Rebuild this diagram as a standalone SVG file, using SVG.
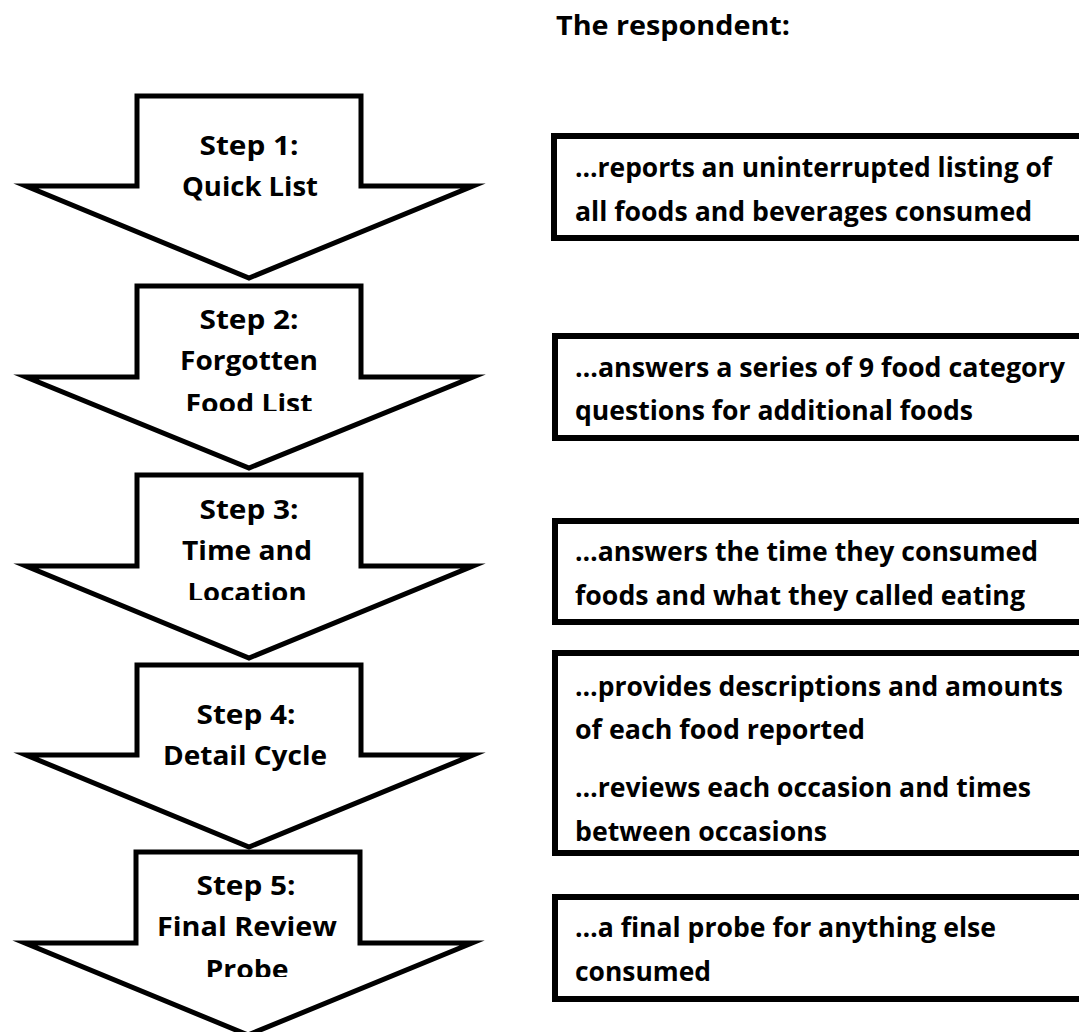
<svg xmlns="http://www.w3.org/2000/svg" width="1079" height="1032" viewBox="0 0 1079 1032">
<style>
.arrow{fill:#fff;stroke:#000;stroke-width:5;stroke-linejoin:miter;stroke-miterlimit:12}
.box{fill:#fff;stroke:#000;stroke-width:6}
.t{font-family:"Open Sans","Noto Sans","Liberation Sans",sans-serif;font-weight:700;fill:#000}
.at{font-size:27px;text-anchor:middle}
.bt{font-size:26px}
</style>
<defs>
<clipPath id="c2"><rect x="0" y="280" width="500" height="131"/></clipPath>
<clipPath id="c3"><rect x="0" y="470" width="500" height="130"/></clipPath>
<clipPath id="c5"><rect x="0" y="846" width="500" height="131"/></clipPath>
</defs>
<rect width="1079" height="1032" fill="#fff"/>
<text class="t" x="556" y="35" font-size="26" textLength="234" lengthAdjust="spacingAndGlyphs">The respondent:</text>

<g id="step1">
<path class="arrow" d="M137,96 H361 V186 H473 L249,278 L26,186 H137 Z"/>
<text class="t at" x="249" y="155" textLength="99" lengthAdjust="spacingAndGlyphs">Step 1:</text>
<text class="t at" x="250" y="196" textLength="136" lengthAdjust="spacingAndGlyphs">Quick List</text>
</g>
<g id="step2">
<path class="arrow" d="M137,286 H361 V377 H473 L249,468 L26,377 H137 Z"/>
<text class="t at" x="249" y="329" textLength="99" lengthAdjust="spacingAndGlyphs">Step 2:</text>
<text class="t at" x="249" y="370" textLength="138" lengthAdjust="spacingAndGlyphs">Forgotten</text>
<text class="t at" x="249" y="413" textLength="127" lengthAdjust="spacingAndGlyphs" clip-path="url(#c2)">Food List</text>
</g>
<g id="step3">
<path class="arrow" d="M137,475 H361 V566 H473 L249,658 L26,566 H137 Z"/>
<text class="t at" x="249" y="519" textLength="99" lengthAdjust="spacingAndGlyphs">Step 3:</text>
<text class="t at" x="247" y="560" textLength="130" lengthAdjust="spacingAndGlyphs">Time and</text>
<text class="t at" x="247" y="602" textLength="119" lengthAdjust="spacingAndGlyphs" clip-path="url(#c3)">Location</text>
</g>
<g id="step4">
<path class="arrow" d="M137,665 H361 V755 H473 L249,847 L26,755 H137 Z"/>
<text class="t at" x="246" y="724" textLength="99" lengthAdjust="spacingAndGlyphs">Step 4:</text>
<text class="t at" x="245" y="765" textLength="164" lengthAdjust="spacingAndGlyphs">Detail Cycle</text>
</g>
<g id="step5">
<path class="arrow" d="M136,852 H360 V943 H472 L248,1035 L25,943 H136 Z"/>
<text class="t at" x="246" y="895" textLength="99" lengthAdjust="spacingAndGlyphs">Step 5:</text>
<text class="t at" x="247" y="936" textLength="180" lengthAdjust="spacingAndGlyphs">Final Review</text>
<text class="t at" x="247" y="979" textLength="83" lengthAdjust="spacingAndGlyphs" clip-path="url(#c5)">Probe</text>
</g>

<g id="desc1">
<rect class="box" x="554" y="136" width="540" height="102"/>
<text class="t bt" x="575" y="177" textLength="477" lengthAdjust="spacingAndGlyphs">…reports an uninterrupted listing of</text>
<text class="t bt" x="575" y="221" textLength="457" lengthAdjust="spacingAndGlyphs">all foods and beverages consumed</text>
</g>
<g id="desc2">
<rect class="box" x="555" y="336" width="540" height="102"/>
<text class="t bt" x="575" y="377" textLength="490" lengthAdjust="spacingAndGlyphs">…answers a series of 9 food category</text>
<text class="t bt" x="575" y="420" textLength="398" lengthAdjust="spacingAndGlyphs">questions for additional foods</text>
</g>
<g id="desc3">
<rect class="box" x="555" y="521" width="540" height="101"/>
<text class="t bt" x="575" y="561" textLength="463" lengthAdjust="spacingAndGlyphs">…answers the time they consumed</text>
<text class="t bt" x="575" y="605" textLength="450" lengthAdjust="spacingAndGlyphs">foods and what they called eating</text>
</g>
<g id="desc4">
<rect class="box" x="555" y="653" width="540" height="200"/>
<text class="t bt" x="575" y="696" textLength="488" lengthAdjust="spacingAndGlyphs">…provides descriptions and amounts</text>
<text class="t bt" x="575" y="739" textLength="290" lengthAdjust="spacingAndGlyphs">of each food reported</text>
<text class="t bt" x="575" y="797" textLength="456" lengthAdjust="spacingAndGlyphs">…reviews each occasion and times</text>
<text class="t bt" x="575" y="841" textLength="252" lengthAdjust="spacingAndGlyphs">between occasions</text>
</g>
<g id="desc5">
<rect class="box" x="555" y="897" width="540" height="102"/>
<text class="t bt" x="575" y="937" textLength="421" lengthAdjust="spacingAndGlyphs">…a final probe for anything else</text>
<text class="t bt" x="575" y="981" textLength="136" lengthAdjust="spacingAndGlyphs">consumed</text>
</g>
<g id="connectors"/>
</svg>
